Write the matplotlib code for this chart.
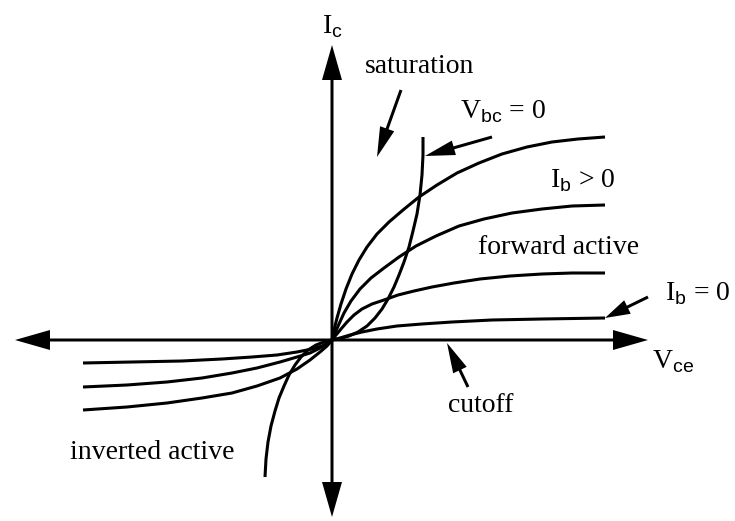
import matplotlib
matplotlib.use('Agg')
import matplotlib.pyplot as plt

plt.rcParams['font.family'] = ['Liberation Serif', 'DejaVu Serif']
plt.rcParams['mathtext.fontset'] = 'custom'
plt.rcParams['mathtext.rm'] = 'Liberation Serif'
plt.rcParams['mathtext.sf'] = 'Liberation Sans'

# curves (x = Vce, y = Ic, arbitrary units, origin at axis crossing)
f1_x = [0, 2, 5, 9, 14, 20, 27, 35, 45, 57, 71, 87, 105, 125, 147, 170, 195, 220, 246, 273]
f1_y = [0, 10, 22, 36, 51, 66, 80, 93, 106, 118, 130, 143, 155, 167, 177, 186, 193, 198, 201, 203]
f2_x = [0, 3, 7, 12, 19, 28, 39, 52, 67, 84, 104, 127, 152, 180, 210, 240, 273]
f2_y = [0, 7, 16, 27, 39, 51, 62, 72, 83, 94, 104, 114, 121, 127, 131, 134, 135]
f3_x = [0, 4, 9, 15, 22, 30, 40, 52, 66, 82, 100, 122, 148, 178, 210, 240, 273]
f3_y = [0, 5, 11, 18, 25, 31, 36, 40, 45, 49, 53, 57, 61, 64, 66, 67, 67]
f4_x = [0, 8, 18, 30, 45, 65, 90, 120, 160, 210, 273]
f4_y = [0, 2, 5, 8, 11, 14, 16, 18, 20, 21, 22]

# Vbc = 0 boundary (saturation edge)
sat_x = [-67, -66, -64, -61, -57, -53, -48, -43, -37, -31, -24, -16, -8, 0,
         8, 17, 26, 35, 43, 50, 56, 62, 67, 72, 77, 81, 85, 88, 90, 91, 91]
sat_y = [-137, -119, -102, -86, -71, -58, -46, -35, -25, -17, -10, -5, -2, 0,
         1.5, 4, 8, 14, 22, 31, 41, 53, 65, 78, 93, 109, 126, 145, 165, 185, 203]

# inverted active curves
ia_x = [0, -4, -10, -20, -35, -55, -80, -110, -150, -200, -249]
ia_y = [0, -3, -6, -9, -12, -15, -17, -19, -21, -22, -23]
ib_x = [0, -5, -12, -22, -35, -52, -75, -100, -130, -165, -205, -249]
ib_y = [0, -4, -8, -13, -17, -22, -28, -33, -38, -42, -45, -47]
ic_x = [0, -5, -12, -22, -35, -52, -75, -100, -130, -165, -205, -249]
ic_y = [0, -6, -12, -20, -29, -38, -46, -53, -58, -63, -67, -70]

fig = plt.figure(figsize=(7.35, 5.21), dpi=100)
ax = fig.add_axes([0, 0, 1, 1])
ax.set_xlim(-332, 403)
ax.set_ylim(-181, 340)
ax.axis('off')

lw = 2.2
for xs, ys in [(f1_x, f1_y), (f2_x, f2_y), (f3_x, f3_y), (f4_x, f4_y),
               (sat_x, sat_y), (ia_x, ia_y), (ib_x, ib_y), (ic_x, ic_y)]:
    ax.plot(xs, ys, color='black', lw=lw, solid_capstyle='butt', solid_joinstyle='round')

# axes with arrow heads
akw = dict(width=3, head_width=20, head_length=35, length_includes_head=True,
           fc='black', ec='none')
ax.arrow(0, 0, 316, 0, **akw)
ax.arrow(0, 0, -317, 0, **akw)
ax.arrow(0, 0, 0, 295, **akw)
ax.arrow(0, 0, 0, -177, **akw)

# pointer arrows
pkw = dict(width=3, head_width=15, head_length=30, length_includes_head=True,
           fc='black', ec='none')
ax.arrow(69, 250, 45 - 69, 183 - 250, **pkw)      # saturation
ax.arrow(160, 203, 93 - 160, 184 - 203, **pkw)    # Vbc = 0
ax.arrow(316, 43, 273 - 316, 22 - 43, **dict(pkw, head_length=25))  # Ib = 0
ax.arrow(136, -47, 115 - 136, -3 + 47, **pkw)     # cutoff

fs = 20
tkw = dict(ha='left', va='baseline', fontsize=fs)
ax.text(-10, 307, r'I$_\mathsf{c}$', **tkw)
ax.text(33, 267, 'saturation', **tkw)
ax.text(128, 222, r'V$_\mathsf{bc}$ = 0', **tkw)
ax.text(218, 153, r'I$_\mathsf{b}$ > 0', **tkw)
ax.text(146, 86, 'forward active', **tkw)
ax.text(333, 40, r'I$_\mathsf{b}$ = 0', **tkw)
ax.text(320, -28, r'V$_\mathsf{ce}$', **tkw)
ax.text(116, -72, 'cutoff', **tkw)
ax.text(-262, -119, 'inverted active', **tkw)

fig.savefig('out.png', dpi=100)
